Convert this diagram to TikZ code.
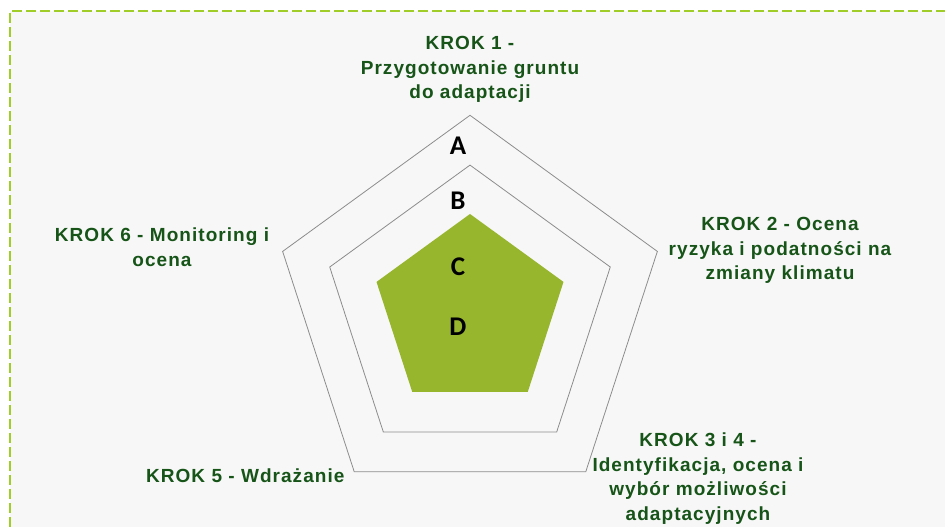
\documentclass[tikz,border=0pt]{standalone}
\usepackage{fontspec}
\setmainfont{Liberation Sans}
\newfontfamily\labelfont[LetterSpace=5.5]{Liberation Sans}
\newfontfamily\markfont{Carlito}
\usetikzlibrary{shapes.geometric}
\definecolor{panelbg}{HTML}{F7F7F7}
\definecolor{panelborder}{RGB}{160,205,40}
\definecolor{ringline}{RGB}{140,140,140}
\definecolor{corefill}{HTML}{97B52D}
\definecolor{steptext}{RGB}{22,84,24}
\begin{document}
\begin{tikzpicture}[x=1bp,y=-1bp,
  ring/.style={regular polygon, regular polygon sides=5, inner sep=0pt,
    outer sep=0pt, draw=ringline, line width=0.8bp},
  core/.style={regular polygon, regular polygon sides=5, inner sep=0pt,
    outer sep=0pt, fill=corefill},
  steplabel/.style={anchor=base, align=center, inner sep=0pt, text=steptext,
    font=\labelfont\bfseries\fontsize{19bp}{24.5bp}\selectfont},
  levelmark/.style={anchor=base, inner sep=0pt, text=black,
    font=\markfont\bfseries\fontsize{27bp}{27bp}\selectfont}]
  \useasboundingbox (0,0) rectangle (945,527);
  % panel background with dashed frame
  \fill[panelbg] (9.7,11.3) rectangle (945,527);
  \draw[draw=panelborder, line width=1.8bp, dash pattern=on 10bp off 4bp]
    (9.7,527) -- (9.7,11.3) -- (945,11.3);
  % concentric pentagons
  \node[ring, minimum size=394bp] (outer) at (470,312.3) {};
  \node[ring, minimum size=295bp] (middle) at (470,312.6) {};
  \node[core, minimum size=196.6bp] (inner) at (470,312.3) {};
  % level letters
  \node[levelmark] (la) at (458,154.3) {A};
  \node[levelmark] (lb) at (458,210) {B};
  \node[levelmark] (lc) at (458,275.5) {C};
  \node[levelmark] (ld) at (458,336) {D};
  % step labels (base anchor sits on the last line)
  \node[steplabel] (s1) at (470,99) {KROK 1 -\\Przygotowanie gruntu\\do adaptacji};
  \node[steplabel] (s2) at (780,280) {KROK 2 - Ocena\\ryzyka i podatności na\\zmiany klimatu};
  \node[steplabel] (s3) at (698,520.2) {KROK 3 i 4 -\\Identyfikacja, ocena i\\wybór możliwości\\adaptacyjnych};
  \node[steplabel] (s5) at (245.3,482.7) {KROK 5 - Wdrażanie};
  \node[steplabel] (s6) at (162,266.2) {KROK 6 - Monitoring i\\ocena};
\end{tikzpicture}
\end{document}
